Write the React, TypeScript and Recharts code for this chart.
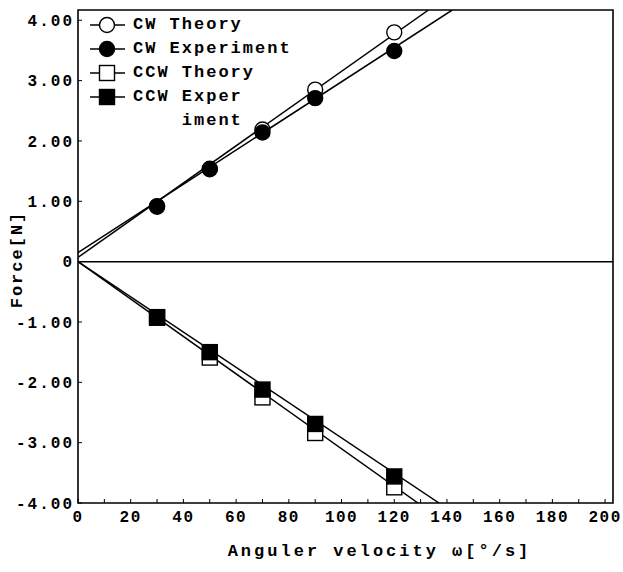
import {
  ComposedChart,
  Line,
  Scatter,
  XAxis,
  YAxis,
  ReferenceLine,
  ReferenceArea,
  Legend,
} from 'recharts';

const FONT = '"Liberation Mono", "DejaVu Sans Mono", monospace';

// angular velocities where the force was measured [deg/s]
const velocities = [30, 50, 70, 90, 120];

// force [N]
const cwTheory = [0.92, 1.54, 2.19, 2.85, 3.8];
const cwExperiment = [0.91, 1.53, 2.14, 2.71, 3.49];
const ccwTheory = [-0.93, -1.59, -2.25, -2.84, -3.74];
const ccwExperiment = [-0.92, -1.5, -2.12, -2.69, -3.56];

// straight lines: value at 0 deg/s and where each one leaves the frame
const cwTheoryFit = [[0, 0.07], [133, 4.17]];
const cwExperimentFit = [[0, 0.15], [142, 4.17]];
const ccwTheoryFit = [[0, 0], [129, -4]];
const ccwExperimentFit = [[0, 0], [137, -4]];

const xTicks = [0, 10, 20, 30, 40, 50, 60, 70, 80, 90, 100, 110, 120, 130, 140, 150, 160, 170, 180, 190, 200];
const yTicks = [-4, -3, -2, -1, 0, 1, 2, 3, 4];
const xDomain = [0, 203];
const yDomain = [-4, 4.17];

const toPoints = (xs: number[], ys: number[]) => xs.map((x, i) => ({ x, y: ys[i] }));
const fitPoints = (pairs: number[][]) => pairs.map(([x, y]) => ({ x, y }));

type Kind = 'circle' | 'square';

const series = [
  { name: 'CW Theory', legend: ['CW Theory'], kind: 'circle' as Kind, filled: false, values: cwTheory, fit: cwTheoryFit },
  { name: 'CW Experiment', legend: ['CW Experiment'], kind: 'circle' as Kind, filled: true, values: cwExperiment, fit: cwExperimentFit },
  { name: 'CCW Theory', legend: ['CCW Theory'], kind: 'square' as Kind, filled: false, values: ccwTheory, fit: ccwTheoryFit },
  { name: 'CCW Experiment', legend: ['CCW Exper', 'iment'], kind: 'square' as Kind, filled: true, values: ccwExperiment, fit: ccwExperimentFit },
];

const drawMarker = (kind: Kind, filled: boolean, cx: number, cy: number) => {
  const fill = filled ? '#000' : '#fff';
  if (kind === 'circle') {
    return <circle cx={cx} cy={cy} r={7.5} fill={fill} stroke="#000" strokeWidth={1.4} />;
  }
  return <rect x={cx - 7.5} y={cy - 7.5} width={15} height={15} fill={fill} stroke="#000" strokeWidth={1.4} />;
};

const renderLegend = () => (
  <div
    style={{
      fontFamily: FONT,
      fontWeight: 'bold',
      fontSize: 17,
      letterSpacing: 2,
      lineHeight: '24px',
      color: '#000',
    }}
  >
    {series.map((s) => (
      <div key={s.name} style={{ display: 'flex', alignItems: 'flex-start' }}>
        <svg width={40} height={24} style={{ flex: 'none' }}>
          <line x1={2} x2={37} y1={12} y2={12} stroke="#000" strokeWidth={1.5} />
          {drawMarker(s.kind, s.filled, 19, 12)}
        </svg>
        <div style={{ marginLeft: 5 }}>
          {s.legend.map((line, i) => (
            <div key={i} style={{ whiteSpace: 'pre', textAlign: i > 0 ? 'right' : 'left' }}>
              {line}
            </div>
          ))}
        </div>
      </div>
    ))}
  </div>
);

const renderYLabel = (props: any) => {
  const vb = props.viewBox;
  const x = vb.x + 17;
  const y = vb.y + vb.height / 2 + 3;
  return (
    <text
      x={x}
      y={y}
      transform={`rotate(-90, ${x}, ${y})`}
      textAnchor="middle"
      dominantBaseline="central"
      fontFamily={FONT}
      fontWeight="bold"
      fontSize={17}
      letterSpacing={2}
      fill="#000"
    >
      Force[N]
    </text>
  );
};

const renderXLabel = (props: any) => {
  const vb = props.viewBox;
  return (
    <text
      x={vb.x + vb.width / 2 + 34}
      y={vb.y + vb.height - 16}
      textAnchor="middle"
      fontFamily={FONT}
      fontWeight="bold"
      fontSize={17}
      letterSpacing={3}
      fill="#000"
    >
      Anguler velocity ω[°/s]
    </text>
  );
};

const tickStyle = { fill: '#000', fontFamily: FONT, fontWeight: 'bold', fontSize: 16 };

export default function App() {
  return (
    <div style={{ position: 'absolute', left: 0, top: 0, background: '#fff' }}>
      <ComposedChart width={623} height={572} margin={{ top: 10, right: 10, bottom: 0, left: 0 }}>
        <XAxis
          type="number"
          dataKey="x"
          domain={xDomain}
          ticks={xTicks}
          interval={0}
          allowDataOverflow
          height={69}
          axisLine={false}
          tickLine={{ stroke: '#000', strokeWidth: 1 }}
          tickSize={-4}
          tickMargin={12}
          tickFormatter={(v: number) => (v % 20 === 0 ? String(v) : '')}
          tick={{ ...tickStyle, letterSpacing: 1.5 }}
          label={renderXLabel}
        />
        <YAxis
          type="number"
          dataKey="y"
          domain={yDomain}
          ticks={yTicks}
          interval={0}
          allowDataOverflow
          width={78}
          axisLine={false}
          tickLine={{ stroke: '#000', strokeWidth: 1 }}
          tickSize={-4}
          tickMargin={8}
          tickFormatter={(v: number) => (v === 0 ? '0' : v.toFixed(2))}
          tick={{ ...tickStyle, letterSpacing: 2 }}
          label={renderYLabel}
        />
        <ReferenceArea
          x1={xDomain[0]}
          x2={xDomain[1]}
          y1={yDomain[0]}
          y2={yDomain[1]}
          fill="none"
          stroke="#000"
          strokeWidth={1.6}
        />
        <ReferenceLine y={0} stroke="#000" strokeWidth={1.5} />
        <Legend
          layout="vertical"
          align="center"
          verticalAlign="middle"
          wrapperStyle={{ left: 88, top: 13, width: 'auto' }}
          content={renderLegend}
        />
        {series.map((s) => (
          <Line
            key={`${s.name}-line`}
            data={fitPoints(s.fit)}
            dataKey="y"
            type="linear"
            stroke="#000"
            strokeWidth={1.5}
            dot={false}
            activeDot={false}
            legendType="none"
            isAnimationActive={false}
          />
        ))}
        {[series[0], series[2], series[1], series[3]].map((s) => (
          <Scatter
            key={`${s.name}-pts`}
            name={s.name}
            data={toPoints(velocities, s.values)}
            shape={(p: any) => drawMarker(s.kind, s.filled, p.cx, p.cy)}
            isAnimationActive={false}
          />
        ))}
      </ComposedChart>
    </div>
  );
}
